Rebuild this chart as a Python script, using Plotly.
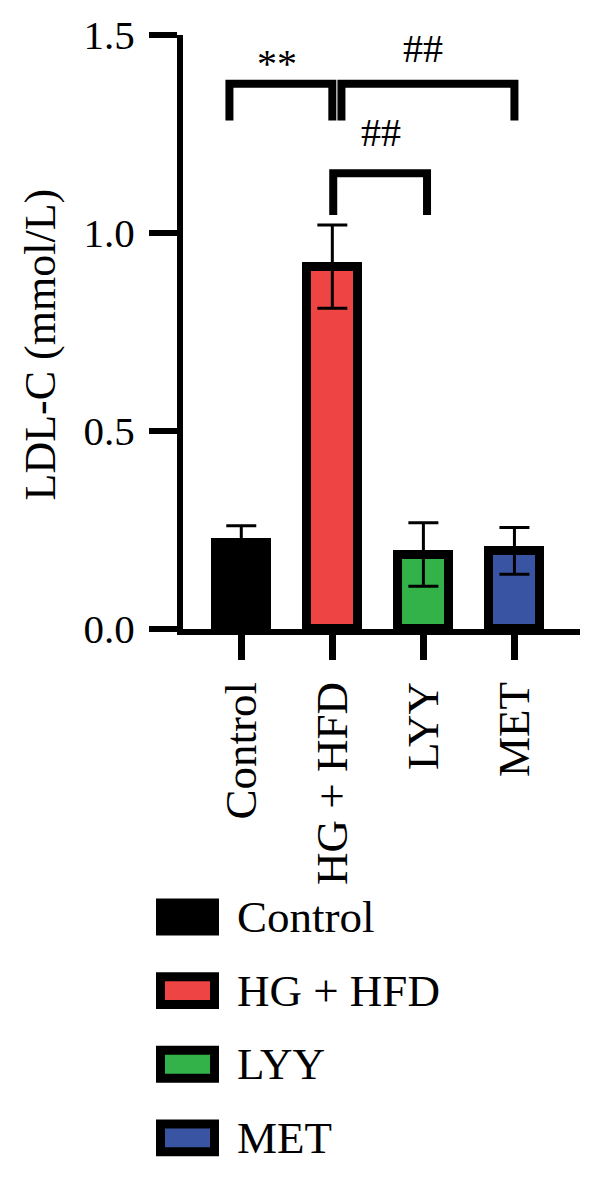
import plotly.graph_objects as go

# ---- data ----
categories = ["Control", "HG + HFD", "LYY", "MET"]
means = [0.216, 0.915, 0.188, 0.197]
errors = [0.045, 0.105, 0.080, 0.059]
colors = ["#000000", "#EF4444", "#33B24A", "#3A54A4"]
y_tick_vals = [0.0, 0.5, 1.0, 1.5]
y_tick_text = ["0.0", "0.5", "1.0", "1.5"]
y_title = "LDL-C (mmol/L)"
sig_labels = ["**", "##", "##"]

# ---- layout geometry ----
W, H = 600, 1185
L, R, T, B = 183, 20, 32, 556
PW, PH = W - L - R, H - T - B
FONT = "Liberation Serif"
X_RANGE = [-0.64, 3.72]
Y_RANGE = [0, 1.5]


def px2paper_x(px):
    return (px - L) / PW


def px2paper_y(py):
    return (H - B - py) / PH


def px2data_y(py):
    return Y_RANGE[0] + (H - B - py) / PH * (Y_RANGE[1] - Y_RANGE[0])


x_pos = list(range(len(categories)))

fig = go.Figure()
fig.add_trace(go.Bar(
    x=x_pos, y=means,
    width=0.565,
    marker=dict(color=colors, line=dict(color="black", width=9)),
    error_y=dict(type="data", array=errors, visible=True,
                 color="black", thickness=3, width=15),
    showlegend=False,
    hoverinfo="skip",
))

shapes = []
annotations = []


def bracket(x0, x1, py_top, py_bot):
    yt, yb = px2data_y(py_top), px2data_y(py_bot)
    shapes.append(dict(
        type="path", xref="x", yref="y",
        path=f"M {x0},{yb} L {x0},{yt} L {x1},{yt} L {x1},{yb}",
        line=dict(color="black", width=8),
    ))


# significance brackets
bracket(-0.13, 1.0, 81, 118)
bracket(1.10, 3.0, 81, 118)
bracket(1.01, 2.04, 171, 213)

annotations.append(dict(x=0.39, y=px2data_y(61), xref="x", yref="y", text=sig_labels[0],
                        showarrow=False, font=dict(family=FONT, size=40, color="black")))
annotations.append(dict(x=2.0, y=px2data_y(46), xref="x", yref="y", text=sig_labels[1],
                        showarrow=False, font=dict(family=FONT, size=40, color="black")))
annotations.append(dict(x=1.53, y=px2data_y(130), xref="x", yref="y", text=sig_labels[2],
                        showarrow=False, font=dict(family=FONT, size=40, color="black")))

# y axis title
annotations.append(dict(x=px2paper_x(40), y=px2paper_y(343), xref="paper", yref="paper",
                        text=y_title, textangle=-90, showarrow=False,
                        xanchor="center", yanchor="middle",
                        font=dict(family=FONT, size=44, color="black")))

# custom legend
legend_top = 900
legend_step = 74
sw_w, sw_h, sw_lw = 63, 37, 9
for i, (name, col) in enumerate(zip(categories, colors)):
    top = legend_top + i * legend_step
    shapes.append(dict(
        type="rect", xref="paper", yref="paper",
        x0=px2paper_x(156 + sw_lw / 2), x1=px2paper_x(156 + sw_w - sw_lw / 2),
        y0=px2paper_y(top + sw_lw / 2), y1=px2paper_y(top + sw_h - sw_lw / 2),
        fillcolor=col, line=dict(color="black", width=sw_lw),
    ))
    annotations.append(dict(
        x=px2paper_x(235), y=px2paper_y(top + sw_h / 2), xref="paper", yref="paper",
        text=name, showarrow=False, xanchor="left", yanchor="middle",
        font=dict(family=FONT, size=45, color="black"),
    ))

fig.update_layout(
    width=W, height=H,
    margin=dict(l=L, r=R, t=T, b=B, pad=0),
    paper_bgcolor="white", plot_bgcolor="white",
    shapes=shapes, annotations=annotations,
    showlegend=False,
    font=dict(family=FONT, color="black"),
    bargap=0,
)
fig.update_xaxes(
    range=X_RANGE, tickvals=x_pos, ticktext=categories, tickangle=-90,
    showline=True, linecolor="black", linewidth=6,
    ticks="outside", ticklen=25, tickwidth=7, tickcolor="black",
    tickfont=dict(family=FONT, size=45, color="black"),
    ticklabelstandoff=4,
    showgrid=False, zeroline=False, fixedrange=True,
)
fig.update_yaxes(
    range=Y_RANGE, tickvals=y_tick_vals, ticktext=y_tick_text,
    showline=True, linecolor="black", linewidth=6,
    ticks="outside", ticklen=28, tickwidth=6, tickcolor="black",
    tickfont=dict(family=FONT, size=41, color="black"),
    ticklabelstandoff=6,
    showgrid=False, zeroline=False, fixedrange=True,
)

fig.write_html("out.html")
